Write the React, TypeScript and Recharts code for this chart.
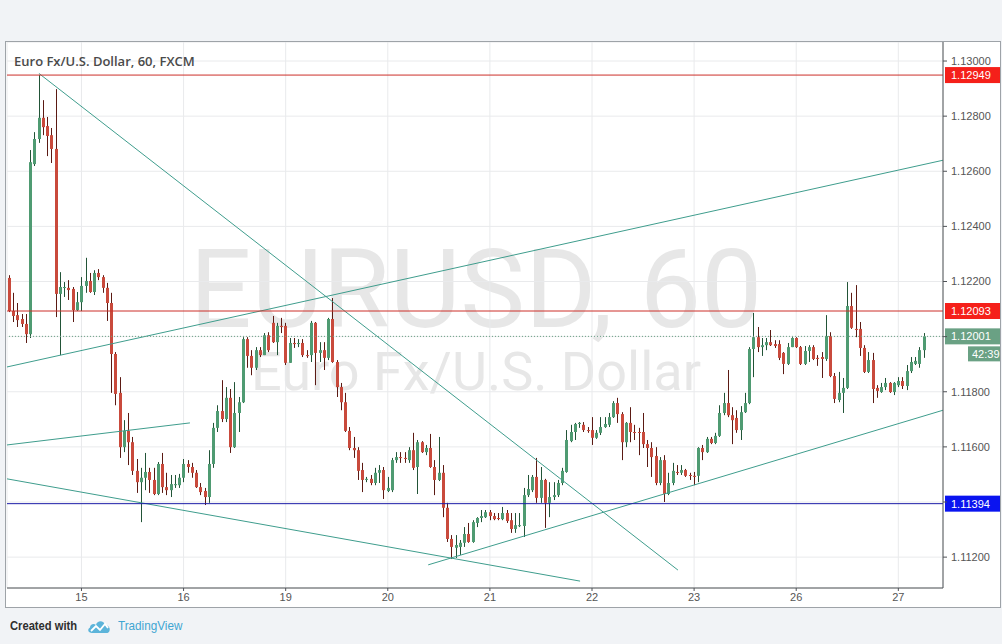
import React from 'react'
import { ComposedChart, Bar, XAxis, YAxis, CartesianGrid, ReferenceLine } from 'recharts'

// hourly EUR/USD candles, 14th 07:00 -> 27th 06:00
const open = [
  1.12213, 1.12093, 1.12078, 1.12064, 1.12046, 1.12009, 1.12626, 1.12717, 1.12794, 1.12764, 1.12731, 1.12681,
  1.12155, 1.12177, 1.12177, 1.12173, 1.12096, 1.12125, 1.12184, 1.12202, 1.12162, 1.12231, 1.12216, 1.12177,
  1.12122, 1.11937, 1.11796, 1.11599, 1.11658, 1.11617, 1.11513, 1.11472, 1.11488, 1.11509, 1.1148, 1.11429,
  1.11538, 1.11454, 1.11443, 1.11461, 1.11461, 1.11488, 1.11538, 1.11527, 1.11506, 1.11454, 1.1144, 1.11418,
  1.11538, 1.11669, 1.1173, 1.11701, 1.11778, 1.11599, 1.11723, 1.11762, 1.11991, 1.1193, 1.11887, 1.11951,
  1.11933, 1.12005, 1.1205, 1.1198, 1.12039, 1.12039, 1.11905, 1.11977, 1.11973, 1.11977, 1.11933, 1.11933,
  1.1205, 1.11941, 1.11951, 1.11923, 1.12064, 1.11908, 1.11817, 1.11762, 1.11658, 1.11596, 1.11588, 1.11516,
  1.1148, 1.11484, 1.11469, 1.11506, 1.11516, 1.1144, 1.11443, 1.11552, 1.11563, 1.1156, 1.11552, 1.11588,
  1.11527, 1.11617, 1.11581, 1.11596, 1.11527, 1.1148, 1.11506, 1.11379, 1.11266, 1.11234, 1.11237, 1.11252,
  1.11284, 1.11255, 1.11324, 1.11342, 1.11345, 1.11363, 1.11349, 1.11342, 1.11338, 1.1136, 1.11334, 1.11302,
  1.11313, 1.11313, 1.11425, 1.11443, 1.11491, 1.11415, 1.1148, 1.11397, 1.11418, 1.11425, 1.11469, 1.11509,
  1.11621, 1.11654, 1.11683, 1.1168, 1.11661, 1.11661, 1.11633, 1.11651, 1.11672, 1.1168, 1.11708, 1.11759,
  1.11719, 1.11617, 1.11687, 1.11654, 1.11654, 1.11654, 1.1161, 1.11596, 1.11567, 1.11469, 1.11552, 1.11429,
  1.11469, 1.11509, 1.11506, 1.11516, 1.11498, 1.11495, 1.11495, 1.11596, 1.11581, 1.11629, 1.11614, 1.1164,
  1.11723, 1.11759, 1.11715, 1.11705, 1.11661, 1.11726, 1.11759, 1.11955, 1.11998, 1.11962, 1.11969, 1.1198,
  1.11973, 1.11973, 1.11941, 1.11901, 1.11962, 1.11995, 1.11962, 1.11901, 1.11948, 1.11962, 1.11923, 1.11926,
  1.11919, 1.12002, 1.11857, 1.1177, 1.11796, 1.11814, 1.12111, 1.12028, 1.12028, 1.11959, 1.11872, 1.11915,
  1.11814, 1.11799, 1.11817, 1.11832, 1.11799, 1.11824, 1.11839, 1.11821, 1.11875, 1.11901, 1.11901, 1.11951,
]
const high = [
  1.12223, 1.12159, 1.12122, 1.12082, 1.12082, 1.12677, 1.12742, 1.12949, 1.12858, 1.12797, 1.12757, 1.12898,
  1.12234, 1.12198, 1.12205, 1.1218, 1.12162, 1.12216, 1.12286, 1.12231, 1.12241, 1.12245, 1.12223, 1.12195,
  1.12159, 1.11944, 1.11853, 1.11697, 1.11723, 1.11636, 1.11556, 1.11524, 1.11578, 1.11524, 1.11524, 1.11545,
  1.11578, 1.11506, 1.11498, 1.11498, 1.11502, 1.11556, 1.11552, 1.11542, 1.11516, 1.11469, 1.11451, 1.11588,
  1.11687, 1.11751, 1.11842, 1.11817, 1.1181, 1.11835, 1.11781, 1.11998, 1.11998, 1.11951, 1.11962, 1.11962,
  1.12013, 1.12016, 1.12075, 1.1205, 1.12068, 1.1205, 1.11995, 1.11995, 1.11991, 1.11991, 1.11951, 1.12057,
  1.12053, 1.1198, 1.1198, 1.12068, 1.1214, 1.11915, 1.11832, 1.11796, 1.11672, 1.11636, 1.11599, 1.11542,
  1.11491, 1.11498, 1.11524, 1.11534, 1.11527, 1.11491, 1.1156, 1.11581, 1.11581, 1.11581, 1.11599, 1.11651,
  1.11625, 1.11621, 1.11607, 1.11647, 1.11552, 1.11636, 1.11534, 1.11397, 1.1128, 1.1128, 1.11262, 1.11309,
  1.11324, 1.11334, 1.11345, 1.11371, 1.11371, 1.11371, 1.1136, 1.1136, 1.11382, 1.11371, 1.1136, 1.1136,
  1.1136, 1.11451, 1.11498, 1.11498, 1.1156, 1.11527, 1.11484, 1.11472, 1.11472, 1.1148, 1.11524, 1.11661,
  1.1168, 1.11687, 1.1169, 1.1169, 1.11672, 1.11708, 1.11661, 1.11708, 1.11708, 1.11723, 1.11766, 1.11778,
  1.11726, 1.1169, 1.11744, 1.1168, 1.11669, 1.11723, 1.11625, 1.11617, 1.11599, 1.11563, 1.1157, 1.11506,
  1.11542, 1.11534, 1.11534, 1.1152, 1.11506, 1.11509, 1.11599, 1.11607, 1.11636, 1.11636, 1.11651, 1.11751,
  1.11796, 1.11879, 1.11744, 1.11733, 1.11748, 1.11796, 1.11962, 1.12086, 1.12035, 1.11995, 1.11995, 1.12024,
  1.11987, 1.11987, 1.11944, 1.11977, 1.11998, 1.11998, 1.11966, 1.11966, 1.11969, 1.11969, 1.11933, 1.11944,
  1.12078, 1.12016, 1.11868, 1.11872, 1.1185, 1.12198, 1.12159, 1.12187, 1.12053, 1.11969, 1.11944, 1.11941,
  1.11824, 1.11832, 1.1185, 1.11835, 1.11835, 1.11853, 1.11853, 1.11897, 1.11926, 1.11926, 1.11962, 1.12013,
]
const low = [
  1.12089, 1.12053, 1.12035, 1.12035, 1.11977, 1.11995, 1.12619, 1.12703, 1.12731, 1.12655, 1.1263, 1.12071,
  1.11933, 1.12144, 1.12133, 1.12053, 1.12093, 1.12093, 1.12159, 1.12159, 1.12151, 1.12205, 1.12159, 1.12057,
  1.11796, 1.11751, 1.1156, 1.11581, 1.11534, 1.11498, 1.11433, 1.11327, 1.11443, 1.11433, 1.11425, 1.11425,
  1.11433, 1.11425, 1.11418, 1.11451, 1.11451, 1.11472, 1.11506, 1.11488, 1.11451, 1.11425, 1.11389, 1.11397,
  1.11524, 1.11654, 1.1169, 1.1169, 1.11578, 1.11596, 1.11654, 1.11759, 1.11887, 1.1186, 1.11879, 1.11926,
  1.11933, 1.11944, 1.11977, 1.11933, 1.12013, 1.11897, 1.11905, 1.11959, 1.11962, 1.11926, 1.11923, 1.11908,
  1.11824, 1.11908, 1.11879, 1.11915, 1.11905, 1.11781, 1.11733, 1.11654, 1.11588, 1.1156, 1.1148, 1.11436,
  1.11472, 1.11461, 1.11461, 1.11469, 1.11411, 1.11436, 1.11436, 1.11542, 1.11542, 1.11542, 1.11542, 1.11516,
  1.11429, 1.11578, 1.1157, 1.11524, 1.11425, 1.11476, 1.11345, 1.11255, 1.11193, 1.11197, 1.11208, 1.11237,
  1.11252, 1.11252, 1.11309, 1.11327, 1.11342, 1.11334, 1.11334, 1.11334, 1.11334, 1.11324, 1.11288, 1.11288,
  1.11309, 1.11273, 1.11418, 1.11436, 1.11397, 1.11397, 1.11306, 1.11345, 1.11407, 1.11418, 1.11461, 1.11506,
  1.11617, 1.11625, 1.11669, 1.11654, 1.11651, 1.11607, 1.11629, 1.11643, 1.11669, 1.11672, 1.11705, 1.11687,
  1.11552, 1.11599, 1.11617, 1.11625, 1.1157, 1.11596, 1.11527, 1.11491, 1.11461, 1.11461, 1.114, 1.11425,
  1.11461, 1.11498, 1.11498, 1.11491, 1.1148, 1.11461, 1.11472, 1.11552, 1.11578, 1.1161, 1.1161, 1.11636,
  1.11715, 1.11708, 1.1161, 1.11651, 1.11625, 1.11723, 1.11755, 1.11853, 1.11944, 1.1193, 1.11951, 1.11966,
  1.11959, 1.11915, 1.11864, 1.11897, 1.11962, 1.11959, 1.11897, 1.11897, 1.11908, 1.11915, 1.11894, 1.1185,
  1.11912, 1.11853, 1.11759, 1.11762, 1.11723, 1.1181, 1.12028, 1.11998, 1.1193, 1.11868, 1.11868, 1.11759,
  1.11778, 1.11796, 1.11806, 1.11796, 1.11788, 1.11817, 1.1181, 1.11806, 1.11868, 1.11897, 1.11887, 1.11923,
]
const close = [
  1.12093, 1.12075, 1.1206, 1.12046, 1.12009, 1.12633, 1.12717, 1.12794, 1.1276, 1.12728, 1.12681, 1.12155,
  1.1218, 1.1218, 1.12169, 1.12096, 1.12125, 1.12184, 1.12202, 1.12162, 1.12231, 1.12216, 1.12177, 1.12122,
  1.11937, 1.11792, 1.11599, 1.11658, 1.11617, 1.11513, 1.11472, 1.11488, 1.11509, 1.1148, 1.11429, 1.11538,
  1.11454, 1.11443, 1.11465, 1.11465, 1.11488, 1.11538, 1.11527, 1.11506, 1.11454, 1.11436, 1.11418, 1.11538,
  1.11669, 1.1173, 1.11701, 1.11778, 1.11599, 1.11723, 1.11762, 1.11991, 1.1193, 1.11887, 1.11951, 1.11933,
  1.12005, 1.11951, 1.1198, 1.12039, 1.12035, 1.11905, 1.11977, 1.11973, 1.11977, 1.11933, 1.1193, 1.1205,
  1.11941, 1.11951, 1.11923, 1.12064, 1.11908, 1.11817, 1.11762, 1.11658, 1.11596, 1.11588, 1.11513, 1.1148,
  1.11484, 1.11469, 1.11506, 1.11516, 1.11443, 1.11451, 1.11552, 1.11563, 1.1156, 1.11556, 1.11588, 1.11524,
  1.11617, 1.11581, 1.11596, 1.11527, 1.1148, 1.11506, 1.11379, 1.11266, 1.11237, 1.11244, 1.11252, 1.11284,
  1.11255, 1.11327, 1.11342, 1.11349, 1.11363, 1.11349, 1.11338, 1.1134, 1.1136, 1.11331, 1.11302, 1.11316,
  1.11316, 1.11425, 1.11447, 1.11491, 1.11415, 1.1148, 1.11397, 1.11418, 1.11425, 1.11469, 1.11513, 1.11625,
  1.11654, 1.11683, 1.11687, 1.11661, 1.11658, 1.11633, 1.11651, 1.11672, 1.11683, 1.11708, 1.11759, 1.11719,
  1.11617, 1.11687, 1.11654, 1.11651, 1.11651, 1.1161, 1.11596, 1.11563, 1.11469, 1.11552, 1.11429, 1.11469,
  1.11513, 1.11506, 1.11516, 1.11495, 1.11495, 1.11491, 1.11596, 1.11581, 1.11629, 1.11614, 1.1164, 1.11723,
  1.11759, 1.11715, 1.11697, 1.11661, 1.11726, 1.11759, 1.11955, 1.11998, 1.11962, 1.11969, 1.1198, 1.11969,
  1.11966, 1.11923, 1.11901, 1.11962, 1.11995, 1.11962, 1.11901, 1.11948, 1.11962, 1.11919, 1.11919, 1.11919,
  1.12002, 1.11857, 1.11774, 1.11796, 1.11814, 1.12111, 1.12032, 1.12024, 1.11959, 1.11872, 1.11915, 1.1181,
  1.11803, 1.11817, 1.11832, 1.11799, 1.11832, 1.11839, 1.11821, 1.11875, 1.11908, 1.11912, 1.11951, 1.12001,
]

const dayTicks = [17, 41, 65, 89, 113, 137, 161, 185, 209]
const dayLabels = ['15', '16', '19', '20', '21', '22', '23', '26', '27']
const priceTicks = [1.112, 1.114, 1.116, 1.118, 1.12, 1.122, 1.124, 1.126, 1.128, 1.13]

// horizontal levels drawn on the chart
const levelPrices = [1.12949, 1.12093, 1.11394]
const lastPrice = 1.12001
const countdown = '42:39'

// trend lines: [barIndex, price] pairs
const trendLines = [
  [[7, 1.12955], [157.2, 1.11153]],
  [[-0.5, 1.1189], [219.5, 1.1264]],
  [[-0.5, 1.11607], [42.5, 1.11687]],
  [[-0.5, 1.11484], [134.2, 1.11113]],
  [[98.5, 1.11172], [219.5, 1.11733]],
]

const SLOTS = 220
const data = Array.from({ length: SLOTS }, (_, i) =>
  i < open.length
    ? { i, open: open[i], high: high[i], low: low[i], close: close[i], range: [low[i], high[i]] }
    : { i }
)

const levelColors = ['#cc2f29', '#cc2f29', '#1c1ca8']
const tagColors = ['#f5201a', '#f5201a', '#0a14f0']
const TEAL = '#3f9d8d'
const GREEN_TAG = '#6aa184'
const axisFont = '"Liberation Sans", Arial, sans-serif'
const narrowFont = '"Liberation Sans Narrow", "Liberation Sans", sans-serif'

function Candle(props: any) {
  const { x, y, width, height, payload } = props
  if (!payload || payload.open == null) return null
  const { open: o, close: c, high: h, low: l } = payload
  const up = c >= o
  const top = Math.min(y, y + height)
  const span = Math.abs(height)
  const k = span / (h - l)
  const cx = Math.round(x + width / 2)
  const bTop = top + (h - Math.max(o, c)) * k
  const bBot = top + (h - Math.min(o, c)) * k
  return (
    <g>
      <line x1={cx + 0.5} x2={cx + 0.5} y1={top} y2={top + span} stroke={up ? '#225437' : '#5b1a13'} strokeWidth={1} />
      <rect x={cx - 1} y={bTop} width={3} height={Math.max(1, bBot - bTop)} fill={up ? '#4f9b72' : '#c94a3c'} />
    </g>
  )
}

function AxisTag(props: any) {
  const { viewBox, text, bg, sub } = props
  if (!viewBox) return null
  const x = viewBox.x + viewBox.width + 2
  const y = viewBox.y
  return (
    <g>
      <rect x={x} y={y - 8} width={55} height={16} fill={bg} />
      <text x={x + 6} y={y + 4} fill="#fff" fontSize={11} fontFamily={axisFont}>{text}</text>
      {sub && (
        <g>
          <rect x={x + 23} y={y + 10} width={32} height={15} fill={bg} />
          <text x={x + 27} y={y + 21.5} fill="#fff" fontSize={11} fontFamily={axisFont}>{sub}</text>
        </g>
      )}
    </g>
  )
}

function Logo() {
  return (
    <svg width={24} height={16} viewBox="0 0 24 16" style={{ position: 'absolute', left: 87, top: 618 }}>
      <path d="M5 15 C1 15 0 11 3 9.5 C3 6 7 5 9 7 C10 2 17 2 18 7 C22 7 24 11 22 14 C21 15 20 15 19 15 Z" fill="#5cb4da" />
      <polyline points="4,13 9,8 13,12 18,6 21,10" fill="none" stroke="#fff" strokeWidth={1.8} />
    </svg>
  )
}

export default function App() {
  const covered = [...levelPrices, lastPrice]
  const fmtPrice = (v: number) => (covered.some((p) => Math.abs(p - v) < 0.0001) ? '' : v.toFixed(5))
  return (
    <div style={{ position: 'absolute', left: 0, top: 0, width: 1002, height: 644, background: '#f1f3f6', overflow: 'hidden' }}>
      <div style={{ position: 'absolute', left: 5, top: 41, width: 996, height: 567, boxSizing: 'border-box', border: '1px solid #9ea3a8', background: '#fff' }}>
        <svg width={994} height={565} style={{ position: 'absolute', left: 0, top: 0 }}>
          <text x={470} y={285} textAnchor="middle" fontSize={109} fill="#e7e7e7" fontFamily="Roboto, sans-serif">EURUSD, 60</text>
          <text x={470} y={348} textAnchor="middle" fontSize={54} fill="#e7e7e7" fontFamily="Roboto, sans-serif">Euro Fx/U.S. Dollar</text>
        </svg>
        <ComposedChart width={994} height={565} data={data} margin={{ top: 0, right: 0, bottom: 0, left: 1 }}>
          <CartesianGrid stroke="#e9eaec" />
          <XAxis
            dataKey="i"
            type="category"
            ticks={dayTicks}
            interval={0}
            height={19}
            tickSize={3}
            tickFormatter={(v: number) => dayLabels[dayTicks.indexOf(v)] ?? ''}
            tick={{ fontSize: 11, fill: '#555', fontFamily: narrowFont }}
            axisLine={{ stroke: '#4f5257' }}
            tickLine={{ stroke: '#4f5257' }}
          />
          <XAxis xAxisId="num" dataKey="i" type="number" domain={[-0.5, SLOTS - 0.5]} allowDataOverflow hide />
          <YAxis
            orientation="right"
            width={57}
            domain={[1.11088, 1.13069]}
            allowDataOverflow
            ticks={priceTicks}
            interval={0}
            tickSize={4}
            tickMargin={4}
            tickFormatter={fmtPrice}
            tick={{ fontSize: 11, fill: '#555', fontFamily: axisFont, textAnchor: 'start' }}
            axisLine={{ stroke: '#4f5257' }}
            tickLine={{ stroke: '#4f5257' }}
          />
          <Bar dataKey="range" shape={<Candle />} isAnimationActive={false} />
          {trendLines.map((seg, k) => (
            <ReferenceLine
              key={'t' + k}
              xAxisId="num"
              segment={[{ x: seg[0][0], y: seg[0][1] }, { x: seg[1][0], y: seg[1][1] }]}
              stroke={TEAL}
              strokeWidth={1}
            />
          ))}
          <ReferenceLine
            y={lastPrice}
            stroke={GREEN_TAG}
            strokeDasharray="1 2"
            label={<AxisTag text={lastPrice.toFixed(5)} bg={GREEN_TAG} sub={countdown} />}
          />
          {levelPrices.map((p, k) => (
            <ReferenceLine
              key={'h' + k}
              y={p}
              stroke={levelColors[k]}
              strokeWidth={1}
              label={<AxisTag text={p.toFixed(5)} bg={tagColors[k]} />}
            />
          ))}
        </ComposedChart>
        <div style={{ position: 'absolute', left: 8, top: 11, fontFamily: '"Open Sans", sans-serif', fontWeight: 600, fontSize: 13, color: '#4a4a4a', lineHeight: '16px' }}>
          Euro Fx/U.S. Dollar, 60, FXCM
        </div>
      </div>
      <div style={{ position: 'absolute', left: 10, top: 618, fontFamily: narrowFont, fontWeight: 700, fontSize: 13, color: '#2e2e2e', lineHeight: '16px', transform: 'scaleX(0.86)', transformOrigin: 'left top' }}>
        Created with
      </div>
      <Logo />
      <div style={{ position: 'absolute', left: 118, top: 618, fontFamily: narrowFont, fontSize: 13, color: '#3fa6d2', lineHeight: '16px', transform: 'scaleX(0.9)', transformOrigin: 'left top' }}>
        TradingView
      </div>
    </div>
  )
}
